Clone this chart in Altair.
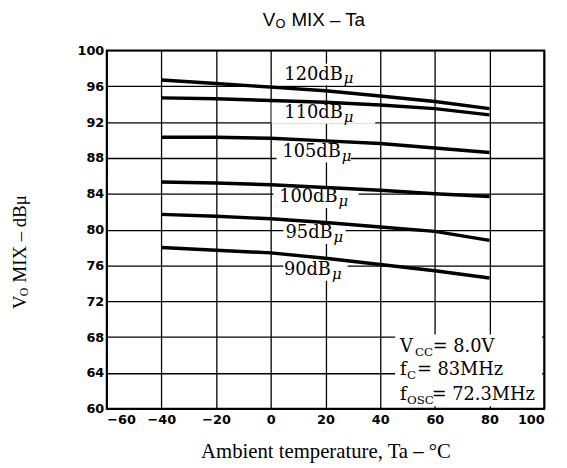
import altair as alt
import pandas as pd

# ---- data ----
temps = [-40, -20, 0, 20, 40, 60, 80]
levels = ["120", "110", "105", "100", "95", "90"]
v120 = [96.7, 96.3, 95.9, 95.5, 94.9, 94.3, 93.5]
v110 = [94.7, 94.6, 94.4, 94.2, 93.9, 93.5, 92.8]
v105 = [90.3, 90.3, 90.2, 89.9, 89.6, 89.1, 88.6]
v100 = [85.3, 85.2, 85.0, 84.7, 84.4, 84.0, 83.7]
v95 = [81.7, 81.5, 81.2, 80.8, 80.3, 79.8, 78.8]
v90 = [78.0, 77.7, 77.4, 76.8, 76.1, 75.4, 74.6]
series = [v120, v110, v105, v100, v95, v90]

# curve labels (data coordinates)
label_text = ["120dB", "110dB", "105dB", "100dB", "95dB", "90dB"]
label_x = [26.3, 26.3, 25.6, 24.4, 22.6, 22.0]
label_y = [97.3, 93.0, 88.7, 83.6, 79.6, 75.5]
box_x1 = [1.4, 0.3, 2.1, 1.0, 4.6, 4.6]
box_x2 = [31.7, 38.2, 29.2, 32.1, 27.4, 28.1]

# conditions annotation
cond_main = ["V", "f", "f"]
cond_sub = ["CC", "C", "OSC"]
cond_rest = ["= 8.0V", "= 83MHz", "= 72.3MHz"]
cond_y = [66.9, 64.3, 61.5]
cond_x = 47.3

x_ticks = list(range(-60, 101, 20))
y_ticks = list(range(60, 101, 4))

rows = []
for lvl, vals in zip(levels, series):
    for t, v in zip(temps, vals):
        rows.append({"level": lvl, "temp": t, "value": v})
df = pd.DataFrame(rows)

lab = pd.DataFrame({"text": label_text, "x": label_x, "y": label_y,
                    "x1": box_x1, "x2": box_x2,
                    "y1": [v - 1.2 for v in label_y], "y2": [v + 1.2 for v in label_y]})

xs = alt.Scale(domain=[-60, 100], nice=False)
ys = alt.Scale(domain=[60, 100], nice=False)
xa = alt.Axis(values=x_ticks, title="Ambient temperature, Ta – °C",
              titleFont="Liberation Serif", titleFontSize=21,
              titleFontWeight="normal", titlePadding=14, titleColor="black",
              labelOverlap=False, labelPadding=5)
ya = alt.Axis(values=y_ticks, title=None, labelOverlap=False)


def X(f):
    return alt.X(f, scale=xs, axis=xa)


def Y(f):
    return alt.Y(f, scale=ys, axis=ya)


lines = alt.Chart(df).mark_line(color="black", strokeWidth=3.5).encode(
    x=X("temp:Q"), y=Y("value:Q"), detail="level:N")

boxes = alt.Chart(lab).mark_rect(color="white").encode(
    x=X("x1:Q"), x2="x2:Q", y=Y("y1:Q"), y2="y2:Q")

ltext = alt.Chart(lab).mark_text(font="DejaVu Serif", fontSize=18, align="right",
                                 baseline="middle", color="black").encode(
    x=X("x:Q"), y=Y("y:Q"), text="text:N")
mu = alt.Chart(lab).mark_text(font="DejaVu Serif", fontSize=15, fontStyle="italic",
                              align="left", baseline="middle", dx=1, dy=4,
                              color="black").encode(
    x=X("x:Q"), y=Y("y:Q"), text=alt.value("μ"))

cond = pd.DataFrame({"main": cond_main, "sub": cond_sub, "rest": cond_rest,
                     "y": cond_y, "x": [cond_x] * 3})
cond_box = alt.Chart(pd.DataFrame({"x1": [45.5], "x2": [99.2], "y1": [60.3], "y2": [68.3]})).mark_rect(
    color="white").encode(x=X("x1:Q"), x2="x2:Q", y=Y("y1:Q"), y2="y2:Q")

cond_layers = []
sub_dx = [15, 7, 7]
rest_dx = [33, 17, 32]
for i in range(3):
    d = cond.iloc[[i]]
    base = alt.Chart(d)
    cond_layers.append(base.mark_text(font="DejaVu Serif", fontSize=18, align="left",
                                      baseline="middle", color="black").encode(
        x=X("x:Q"), y=Y("y:Q"), text="main:N"))
    cond_layers.append(base.mark_text(font="DejaVu Serif", fontSize=12, align="left",
                                      baseline="middle", dx=sub_dx[i], dy=5, color="black").encode(
        x=X("x:Q"), y=Y("y:Q"), text="sub:N"))
    cond_layers.append(base.mark_text(font="DejaVu Serif", fontSize=18, align="left",
                                      baseline="middle", dx=rest_dx[i], color="black").encode(
        x=X("x:Q"), y=Y("y:Q"), text="rest:N"))

# title and y-axis title with subscripts
one = pd.DataFrame({"k": [0]})
tfont = dict(font="Liberation Sans", color="black", baseline="middle", align="left")
title_parts = [
    alt.Chart(one).mark_text(fontSize=19, **tfont).encode(x=alt.value(158), y=alt.value(-31), text=alt.value("V")),
    alt.Chart(one).mark_text(fontSize=13, dy=4, **tfont).encode(x=alt.value(171), y=alt.value(-31), text=alt.value("O")),
    alt.Chart(one).mark_text(fontSize=19, **tfont).encode(x=alt.value(187), y=alt.value(-31), text=alt.value("MIX – Ta")),
]
yfont = dict(font="Liberation Serif", color="black", baseline="middle", align="left", angle=270)
ytitle_parts = [
    alt.Chart(one).mark_text(fontSize=19, **yfont).encode(x=alt.value(-88), y=alt.value(262), text=alt.value("V")),
    alt.Chart(one).mark_text(fontSize=12, dx=13, dy=4, **yfont).encode(x=alt.value(-88), y=alt.value(262), text=alt.value("O")),
    alt.Chart(one).mark_text(fontSize=19, dx=27, **yfont).encode(x=alt.value(-88), y=alt.value(262), text=alt.value("MIX – dBμ")),
]

chart = alt.layer(
    boxes, cond_box, lines, ltext, mu, *cond_layers, *title_parts, *ytitle_parts
).properties(
    width=443, height=363,
    autosize=alt.AutoSizeParams(type="none"),
    padding={"left": 100, "top": 40, "right": 15, "bottom": 55},
    background="white",
).configure_view(
    stroke="black", strokeWidth=2
).configure_axis(
    grid=True, gridColor="black", gridWidth=1.3, gridOpacity=1,
    domain=False, ticks=False,
    labelFont="DejaVu Sans", labelFontWeight="bold", labelFontSize=13,
    labelColor="black", labelPadding=3,
)

chart.save("out.html", embed_options={"renderer": "svg", "actions": False})
